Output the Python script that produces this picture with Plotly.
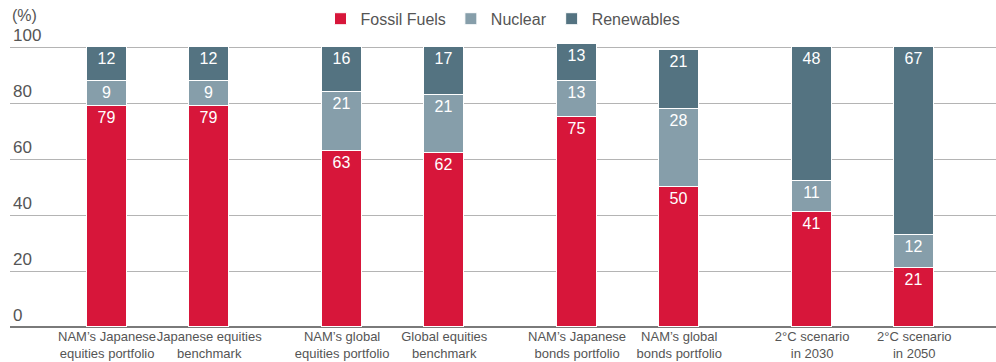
import plotly.graph_objects as go

categories = [
    "NAM’s Japanese<br>equities portfolio",
    "Japanese equities<br>benchmark",
    "NAM’s global<br>equities portfolio",
    "Global equities<br>benchmark",
    "NAM’s Japanese<br>bonds portfolio",
    "NAM’s global<br>bonds portfolio",
    "2°C scenario<br>in 2030",
    "2°C scenario<br>in 2050",
]
positions = [0, 1, 2.3, 3.3, 4.6, 5.6, 6.9, 7.9]
fossil = [79, 79, 63, 62, 75, 50, 41, 21]
nuclear = [9, 9, 21, 21, 13, 28, 11, 12]
renewables = [12, 12, 16, 17, 13, 21, 48, 67]
series = [
    ("Fossil Fuels", fossil, "#D7163A"),
    ("Nuclear", nuclear, "#869EAA"),
    ("Renewables", renewables, "#547381"),
]
y_ticks = [0, 20, 40, 60, 80, 100]

FONT = "Liberation Sans, Arial, sans-serif"
fig = go.Figure()
for name, vals, color in series:
    fig.add_trace(go.Bar(
        x=positions, y=vals, name=name, width=0.39,
        marker=dict(color=color, line=dict(color="white", width=1)),
        text=[str(v) for v in vals], textposition="inside",
        insidetextanchor="end", textangle=0,
        textfont=dict(color="white", size=16, family=FONT),
        hoverinfo="skip",
    ))

fig.update_layout(
    barmode="stack",
    width=996, height=362,
    margin=dict(l=10, r=0, t=25, b=35, autoexpand=False),
    paper_bgcolor="white", plot_bgcolor="white",
    font=dict(family=FONT, color="#555555"),
    uniformtext=dict(minsize=10, mode="show"),
    legend=dict(orientation="h", x=0.5, xanchor="center", y=0.995, yanchor="top",
                yref="container", font=dict(size=16, color="#555555"),
                traceorder="normal"),
    showlegend=True,
    bargap=0,
)
fig.update_xaxes(
    range=[-0.95, 8.70], tickvals=positions, ticktext=categories, tickangle=0,
    tickfont=dict(size=13, color="#555555"), showgrid=False, automargin=False,
    ticks="", showline=False, zeroline=False, fixedrange=True,
)
fig.update_yaxes(
    range=[0, 107.86], tickvals=y_ticks, ticklabelposition="inside top",
    tickfont=dict(size=17, color="#555555"), showgrid=True, automargin=False,
    gridcolor="#B4B4B4", gridwidth=1, zeroline=True, zerolinecolor="#7A7A7A",
    zerolinewidth=1.5, showline=False, ticks="", fixedrange=True,
)
fig.add_annotation(text="(%)", xref="paper", yref="paper", x=0, y=(327 - 15) / 302,
                   xanchor="left", yanchor="middle", showarrow=False,
                   font=dict(size=16, color="#555555"))
fig.write_html("out.html")
